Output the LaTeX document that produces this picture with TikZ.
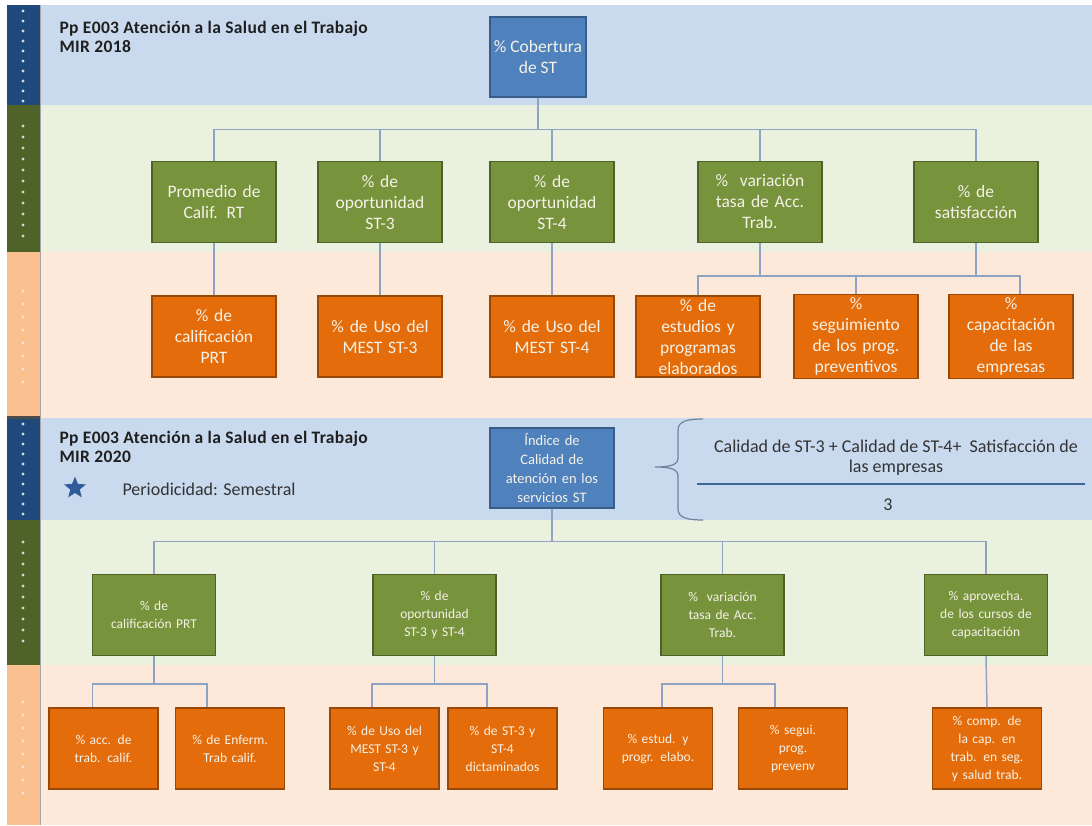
\documentclass[tikz,border=0pt]{standalone}
\usepackage{fontspec}
\setmainfont{Carlito}
\usetikzlibrary{shapes.geometric}

\definecolor{bandblue}{HTML}{C9D9EE}
\definecolor{bandgreen}{HTML}{EBF1DF}
\definecolor{bandpeach}{HTML}{FDE9DA}
\definecolor{stripblue}{HTML}{1F497D}
\definecolor{stripgreen}{HTML}{4F6228}
\definecolor{strippeach}{HTML}{FAC090}
\definecolor{boxblue}{HTML}{4F81BD}
\definecolor{boxblueD}{HTML}{385D8A}
\definecolor{boxgreen}{HTML}{77933C}
\definecolor{boxgreenD}{HTML}{4F6228}
\definecolor{boxorange}{HTML}{E46C0A}
\definecolor{boxorangeD}{HTML}{984807}
\definecolor{wire}{HTML}{8EA4C2}
\definecolor{txtlight}{HTML}{F6F2E8}
\definecolor{starblue}{HTML}{2E5C9A}

\begin{document}
\begin{tikzpicture}[x=1pt,y=-1pt,
  conn/.style={draw=wire, line width=1.5pt},
  bx/.style={draw, line width=1.3pt, align=center, inner sep=3pt, text=txtlight},
  bigbox/.style={bx, minimum width=124pt, minimum height=81pt, text width=118pt,
                 font=\fontsize{17.5}{21}\selectfont},
  smallbox/.style={bx, minimum height=81pt, font=\fontsize{13.5}{18}\selectfont},
  gtop/.style={bigbox, fill=boxgreen, draw=boxgreenD},
  otop/.style={bigbox, fill=boxorange, draw=boxorangeD},
  gbot/.style={smallbox, fill=boxgreen, draw=boxgreenD, minimum width=123pt, text width=117pt},
  obot/.style={smallbox, fill=boxorange, draw=boxorangeD, minimum width=109pt, text width=103pt},
  rootbox/.style={bx, fill=boxblue, draw=boxblueD, minimum height=80pt},
  head/.style={anchor=west, align=left, text=black!88,
               font=\bfseries\fontsize{17.5}{19}\selectfont\addfontfeature{LetterSpace=2}},
  plain/.style={align=center, text=black!80, font=\fontsize{18}{20}\selectfont}
]
\useasboundingbox (0,0) rectangle (1092,825);
\fill[white] (0,0) rectangle (1092,825);

% level bands, upper chart
\fill[bandblue]  (40,5)   rectangle (1092,105);
\fill[bandgreen] (40,105) rectangle (1092,252);
\fill[bandpeach] (40,252) rectangle (1092,418);
% level bands, lower chart
\fill[bandblue]  (40,418) rectangle (1092,520);
\fill[bandgreen] (40,520) rectangle (1092,665);
\fill[bandpeach] (40,665) rectangle (1092,825);

% side strips
\fill[stripblue]  (7,5)   rectangle (40,105);
\fill[stripgreen] (7,105) rectangle (40,252);
\fill[strippeach] (7,252) rectangle (40,416);
\fill[black!70]   (7,416) rectangle (40,419);
\fill[stripblue]  (7,419) rectangle (40,520);
\fill[stripgreen] (7,520) rectangle (40,665);
\fill[strippeach] (7,665) rectangle (40,825);
\draw[black!35, line width=0.6pt] (40,5) -- (40,825);

\foreach \y in {11,21,...,101}   \fill[white!80!stripblue]  (23,\y) circle (1.7);
\foreach \y in {126,137,...,236} \fill[white!75!stripgreen] (23,\y) circle (1.7);
\foreach \y in {291,304,...,390} \fill[white!55!strippeach] (23,\y) circle (1.7);
\foreach \y in {424,434,...,514} \fill[white!80!stripblue]  (23,\y) circle (1.7);
\foreach \y in {542,553,...,650} \fill[white!75!stripgreen] (23,\y) circle (1.7);
\foreach \y in {702,715,...,802} \fill[white!55!strippeach] (23,\y) circle (1.7);

% ---------------- MIR 2018 ----------------
\node[head] (h1) at (56,37) {Pp E003 Atención a la Salud en el Trabajo\\MIR 2018};

\node[rootbox, minimum width=96pt, font=\fontsize{17.5}{21}\selectfont]
  (cob) at (538,57) {\% Cobertura\\de ST};

\node[gtop] (g1) at (214,202) {Promedio de\\Calif. RT};
\node[gtop] (g2) at (380,202) {\% de\\oportunidad\\ST-3};
\node[gtop] (g3) at (552,202) {\% de\\oportunidad\\ST-4};
\node[gtop] (g4) at (760,202) {\%~ variación\\tasa de Acc.\\Trab.};
\node[gtop] (g5) at (976,202) {\% de\\satisfacción};

\node[otop] (o1) at (214,336.5) {\% de\\calificación\\PRT};
\node[otop] (o2) at (380,336.5) {\% de Uso del\\MEST ST-3};
\node[otop] (o3) at (552,336.5) {\% de Uso del\\MEST ST-4};
\node[otop] (o4) at (698,336.5) {\% de\\estudios y\\programas\\elaborados};
\node[otop] (o5) at (856,336.5) {\%\\seguimiento\\de los prog.\\preventivos};
\node[otop] (o6) at (1011,336.5) {\%\\capacitación\\de las\\empresas};

\foreach \n in {g1,g2,g3,g4,g5}
  \draw[conn] (cob.south) -- ++(0,32) -| (\n.north);
\draw[conn] (g1.south) -- (o1.north);
\draw[conn] (g2.south) -- (o2.north);
\draw[conn] (g3.south) -- (o3.north);
\draw[conn] (g4.south) -- ++(0,33) -| (o4.north);
\draw[conn] (g4.south) -- ++(0,33) -| (o5.north);
\draw[conn] (g5.south) -- ++(0,33) -| (o5.north);
\draw[conn] (g5.south) -- ++(0,33) -| ([xshift=9pt]o6.north);

% ---------------- MIR 2020 ----------------
\node[head] (h2) at (56,447) {Pp E003 Atención a la Salud en el Trabajo\\MIR 2020};
\node[star, star points=5, star point ratio=2.3, fill=starblue, minimum size=23pt, inner sep=0pt]
  (st) at (75,488) {};
\node[anchor=west, text=black!80, font=\fontsize{18}{20}\selectfont] (per) at (119,489) {Periodicidad: Semestral};

\node[rootbox, minimum width=124pt, text width=118pt, font=\fontsize{14.5}{19}\selectfont]
  (idx) at (552,468) {Índice de\\Calidad de\\atención en los\\servicios ST};

% formula for the index
\draw[wire!80!black, line width=1.2pt]
  (703,419) .. controls (688,419) and (678,421) .. (678,430) -- (678,458)
  .. controls (678,465) and (670,467) .. (655,467)
  .. controls (670,467) and (678,469) .. (678,476) -- (678,509)
  .. controls (678,518) and (688,520) .. (703,520);
\node[plain] (num) at (896,458) {Calidad de ST-3 + Calidad de ST-4+~ Satisfacción de\\las empresas};
\draw[boxblue!80!black, line width=1.1pt] (697,484) -- (1085,484);
\node[plain] (den) at (888,505) {3};

\node[gbot] (b1) at (154,615) {\% de\\calificación PRT};
\node[gbot] (b2) at (434.5,615) {\% de\\oportunidad\\ST-3 y ST-4};
\node[gbot] (b3) at (722.5,615) {\%~ variación\\tasa de Acc.\\Trab.};
\node[gbot] (b4) at (986,615) {\% aprovecha.\\de los cursos de\\capacitación};

\node[obot] (c1) at (103.5,748.5) {\% acc. de\\trab. calif.};
\node[obot] (c2) at (230,748.5) {\% de Enferm.\\Trab calif.};
\node[obot] (c3) at (384.5,748.5) {\% de Uso del\\MEST ST-3 y\\ST-4};
\node[obot] (c4) at (502.5,748.5) {\% de ST-3 y\\ST-4\\dictaminados};
\node[obot] (c5) at (658,748.5) {\% estud. y\\progr. elabo.};
\node[obot] (c6) at (793,748.5) {\% segui.\\prog.\\prevenv};
\node[obot] (c7) at (987,748.5) {\% comp. de\\la cap. en\\trab. en seg.\\y salud trab.};

\foreach \n in {b1,b2,b3,b4}
  \draw[conn] (idx.south) -- ++(0,33) -| (\n.north);
\draw[conn] (b1.south) -- ++(0,28) -| ([xshift=-11pt]c1.north);
\draw[conn] (b1.south) -- ++(0,28) -| ([xshift=-23pt]c2.north);
\draw[conn] (b2.south) -- ++(0,28) -| ([xshift=-12.5pt]c3.north);
\draw[conn] (b2.south) -- ++(0,28) -| ([xshift=-15.5pt]c4.north);
\draw[conn] (b3.south) -- ++(0,28) -| ([xshift=4pt]c5.north);
\draw[conn] (b3.south) -- ++(0,28) -| ([xshift=-18pt]c6.north);
\draw[conn] (b4.south) -- (c7.north);
\end{tikzpicture}
\end{document}
